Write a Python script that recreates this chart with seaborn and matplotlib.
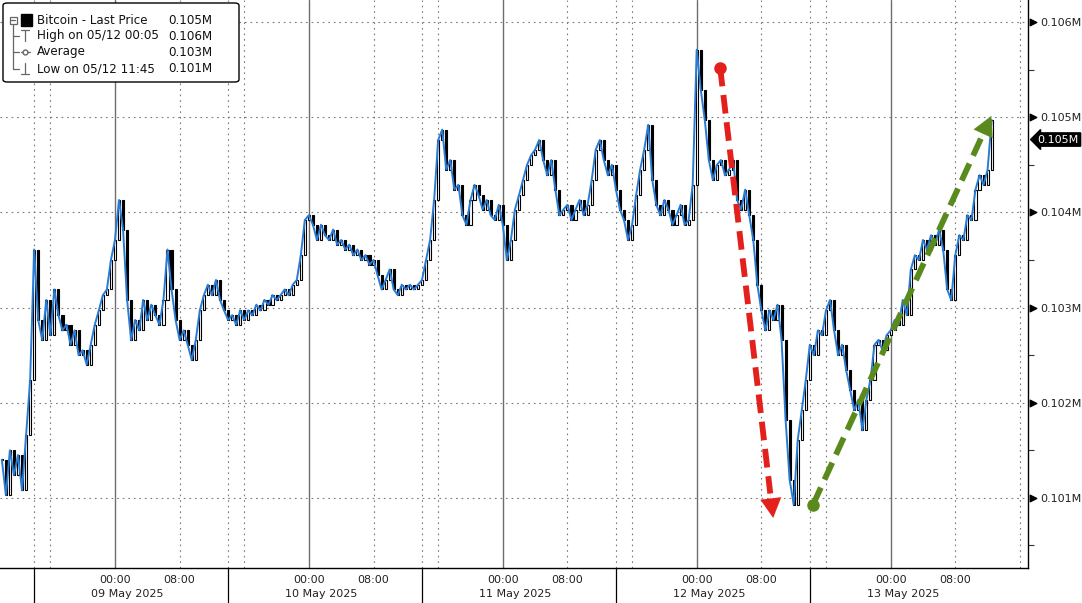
import numpy as np
import pandas as pd
import matplotlib
matplotlib.use("Agg")
import matplotlib.pyplot as plt
from matplotlib.patches import FancyBboxPatch, Rectangle
from matplotlib.lines import Line2D
import seaborn as sns

# ---- data: half-hour closes (thousand USD), first bar 08 May 10:00 ----
start_hour = -14.0          # hours relative to 09 May 2025 00:00
step_hours = 0.5
close_k = [
    101.40, 101.03, 101.50, 101.24, 101.45, 101.08, 101.66, 102.24, 103.61, 102.87,
    102.66, 103.08, 102.71, 103.19, 102.92, 102.76, 102.82, 102.61, 102.76, 102.50,
    102.55, 102.40, 102.61, 102.82, 102.97, 103.13, 103.19, 103.50, 103.71, 104.13,
    103.82, 103.08, 102.66, 102.87, 102.76, 103.08, 102.87, 103.03, 102.92, 102.82,
    103.08, 103.61, 103.19, 102.87, 102.66, 102.76, 102.61, 102.45, 102.66, 102.97,
    103.13, 103.24, 103.13, 103.29, 103.08, 102.97, 102.87, 102.92, 102.82, 102.97,
    102.87, 102.97, 102.92, 103.03, 102.97, 103.08, 103.03, 103.13, 103.08, 103.13,
    103.19, 103.13, 103.24, 103.29, 103.55, 103.92, 103.97, 103.87, 103.71, 103.87,
    103.76, 103.71, 103.82, 103.66, 103.71, 103.61, 103.66, 103.55, 103.61, 103.50,
    103.55, 103.45, 103.50, 103.34, 103.19, 103.29, 103.40, 103.19, 103.13, 103.24,
    103.19, 103.24, 103.19, 103.24, 103.29, 103.50, 103.71, 104.13, 104.76, 104.87,
    104.45, 104.55, 104.24, 104.29, 103.97, 103.87, 104.13, 104.29, 104.18, 104.03,
    104.13, 103.97, 103.92, 104.08, 103.87, 103.50, 103.71, 104.03, 104.18, 104.34,
    104.50, 104.60, 104.66, 104.76, 104.55, 104.39, 104.55, 104.24, 103.97, 104.03,
    104.08, 103.92, 104.03, 104.13, 103.97, 104.08, 104.34, 104.66, 104.76, 104.55,
    104.39, 104.50, 104.24, 104.03, 103.92, 103.71, 103.87, 104.18, 104.45, 104.66,
    104.92, 104.34, 104.08, 103.97, 104.13, 104.03, 103.87, 103.97, 104.08, 103.87,
    103.92, 104.29, 105.71, 105.29, 104.97, 104.55, 104.34, 104.50, 104.55, 104.39,
    104.45, 104.55, 104.13, 104.03, 104.24, 103.97, 103.71, 103.24, 102.97, 102.76,
    102.97, 102.87, 103.03, 102.66, 101.82, 101.19, 100.93, 101.61, 101.92, 102.24,
    102.61, 102.50, 102.76, 102.71, 102.97, 103.08, 102.76, 102.50, 102.61, 102.34,
    102.13, 101.92, 102.03, 101.71, 102.03, 102.24, 102.61, 102.66, 102.55, 102.71,
    102.76, 102.87, 102.82, 103.08, 102.92, 103.40, 103.55, 103.50, 103.71, 103.61,
    103.76, 103.66, 103.82, 103.61, 103.19, 103.08, 103.55, 103.76, 103.71, 103.97,
    103.92, 104.24, 104.39, 104.29, 104.45, 104.97,
]

day_labels = ["09 May 2025", "10 May 2025", "11 May 2025", "12 May 2025", "13 May 2025"]
day_midnights = [0, 24, 48, 72, 96]
session_breaks = [-10, 14, 38, 62, 86]
price_ticks = [101000, 102000, 103000, 104000, 105000, 106000]
legend_names = ["Bitcoin - Last Price", "High on 05/12 00:05", "Average", "Low on 05/12 11:45"]

# annotation arrows (hours, price)
red_arrow = ((74.9, 105520), (81.5, 100760))
green_arrow = ((86.4, 100930), (108.6, 105040))

# ---- frame ----
df = pd.DataFrame({"hour": start_hour + step_hours * np.arange(len(close_k)),
                   "close": np.array(close_k) * 1000})
df["open"] = df["close"].shift(1).fillna(df["close"])

sns.set_style("white")
plt.rcParams["font.family"] = ["DejaVu Sans"]

W, H = 1082, 603
fig = plt.figure(figsize=(W / 100, H / 100), dpi=100)
ax = fig.add_axes([0, 35 / H, 1028 / W, 568 / H])
ax.set_xlim(-14.23, 113.0)
ax.set_ylim(100263, 106232)

grid_kw = dict(color="#7a7a7a", lw=0.8, linestyle=(0, (1.5, 3.5)), zorder=0)
for h in range(-16, 113, 8):
    if h % 24 == 0:
        ax.axvline(h, color="#6e6e6e", lw=1.0, zorder=0)
    else:
        ax.axvline(h, **grid_kw)
for b in session_breaks:
    ax.axvline(b, **grid_kw)
for p in price_ticks:
    ax.axhline(p, **grid_kw)

# candles: hollow when rising, filled when falling
up = df["close"] >= df["open"]
body = (df["close"] - df["open"]).abs().clip(lower=12)
bottom = df[["open", "close"]].min(axis=1)
ax.bar(df["hour"][up], body[up], bottom=bottom[up], width=0.26,
       color="white", edgecolor="black", linewidth=0.8, zorder=2)
ax.bar(df["hour"][~up], body[~up], bottom=bottom[~up], width=0.26,
       color="black", edgecolor="black", linewidth=0.8, zorder=2)

sns.lineplot(data=df, x="hour", y="close", color="#2a7bd4", lw=1.4, ax=ax, zorder=3)
ax.set_xlabel("")
ax.set_ylabel("")

# arrows
for (p0, p1), col in [(red_arrow, "#e3201b"), (green_arrow, "#5a8a1c")]:
    dx, dy = p1[0] - p0[0], p1[1] - p0[1]
    stem_end = (p1[0] - 0.06 * dx, p1[1] - 0.06 * dy)
    ax.plot([p0[0], stem_end[0]], [p0[1], stem_end[1]], color=col, lw=4.2,
            dashes=(3.2, 1.5), solid_capstyle="butt", zorder=5)
    ax.plot([p0[0]], [p0[1]], "o", color=col, ms=8, zorder=5)
    ax.annotate("", xy=p1, xytext=(p1[0] - 0.1 * dx, p1[1] - 0.1 * dy),
                arrowprops=dict(arrowstyle="-|>,head_width=0.75,head_length=1.4",
                                color=col, lw=0.1), zorder=6)

# spines
for s in ["top", "left"]:
    ax.spines[s].set_visible(False)
for s in ["right", "bottom"]:
    ax.spines[s].set_color("black")
    ax.spines[s].set_linewidth(1.0)

# y axis on right
ax.yaxis.tick_right()
ax.set_yticks(price_ticks)
ax.set_yticklabels([f"{p / 1e6:.3f}M" for p in price_ticks])
ax.set_yticks([p + 500 for p in price_ticks[:-1]] + [100500], minor=True)
ax.tick_params(axis="y", which="major", length=0, pad=9, labelsize=8, labelcolor="#222222")
ax.tick_params(axis="y", which="minor", length=4, width=0.8, direction="out", color="#333333")
ytr = ax.get_yaxis_transform()
ax.scatter([1.0045] * len(price_ticks), price_ticks, marker=">", s=22, color="black",
           transform=ytr, clip_on=False, zorder=7)

# x axis
major_x = [d + o for d in day_midnights for o in (0, 8)]
ax.set_xticks(major_x)
ax.set_xticklabels(["00:00", "08:00"] * len(day_midnights))
ax.set_xticks(list(range(-12, 113, 4)), minor=True)
ax.tick_params(axis="x", which="both", length=4, width=0.8, direction="out",
               pad=1, labelsize=8, color="#333333", labelcolor="#222222")
xtr = ax.get_xaxis_transform()
for d, lab in zip(day_midnights, day_labels):
    ax.text(d + 1.5, -0.045, lab, transform=xtr, ha="center", va="center",
            fontsize=8, color="#222222")
for b in session_breaks:
    ax.plot([b, b], [0, -0.07], transform=xtr, color="black", lw=0.9, clip_on=False)

# last price tag
last = df["close"].iloc[-1]
ax.annotate(f"{last / 1e6:.3f}M", xy=(1.0, last), xycoords=ytr, xytext=(7, -14),
            textcoords="offset points", color="white", fontsize=8, va="center", ha="left",
            bbox=dict(boxstyle="larrow,pad=0.15", fc="black", ec="black"),
            annotation_clip=False)

# legend box (figure pixels)
def fx(x):
    return x / W

def fy(y):
    return 1 - y / H

fig.patches.append(FancyBboxPatch((fx(3), fy(82)), fx(236), 79 / H,
                                  boxstyle="round,pad=0,rounding_size=0.004",
                                  transform=fig.transFigure, fc="white", ec="black", lw=1.0,
                                  zorder=10))
values = [last, df["close"].max(), df["close"].mean(), df["close"].min()]
rows_y = [20, 36, 52, 69]
for name, v, yy in zip(legend_names, values, rows_y):
    fig.text(fx(37), fy(yy), name, fontsize=8.6, va="center", ha="left", color="#111111", zorder=11)
    fig.text(fx(168), fy(yy), f"{v / 1e6:.3f}M", fontsize=8.6, va="center", ha="left",
             color="#111111", zorder=11)
gray = "#666666"
tree = [((13, 24), (13, 69)), ((13, 69), (19, 69)), ((13, 36), (19, 36)), ((13, 52), (19, 52)),
        ((21, 52), (30, 52)), ((25, 30), (25, 41)), ((21, 30), (29, 30)),
        ((25, 63), (25, 74)), ((21, 74), (29, 74))]
for (x0, y0), (x1, y1) in tree:
    fig.lines.append(Line2D([fx(x0), fx(x1)], [fy(y0), fy(y1)], transform=fig.transFigure,
                            color=gray, lw=0.9, zorder=11))
fig.lines.append(Line2D([fx(25)], [fy(52)], transform=fig.transFigure, marker="o", ms=3.5,
                        mfc="white", mec=gray, zorder=12))
fig.patches.append(Rectangle((fx(9.5), fy(23.5)), fx(7), 7 / H, transform=fig.transFigure,
                             fc="white", ec=gray, lw=0.9, zorder=11))
fig.lines.append(Line2D([fx(11), fx(15)], [fy(20), fy(20)], transform=fig.transFigure,
                        color=gray, lw=0.9, zorder=12))
fig.patches.append(Rectangle((fx(21), fy(26)), fx(11), 12 / H, transform=fig.transFigure,
                             fc="black", ec="black", zorder=11))

fig.savefig("out.png", dpi=100)
